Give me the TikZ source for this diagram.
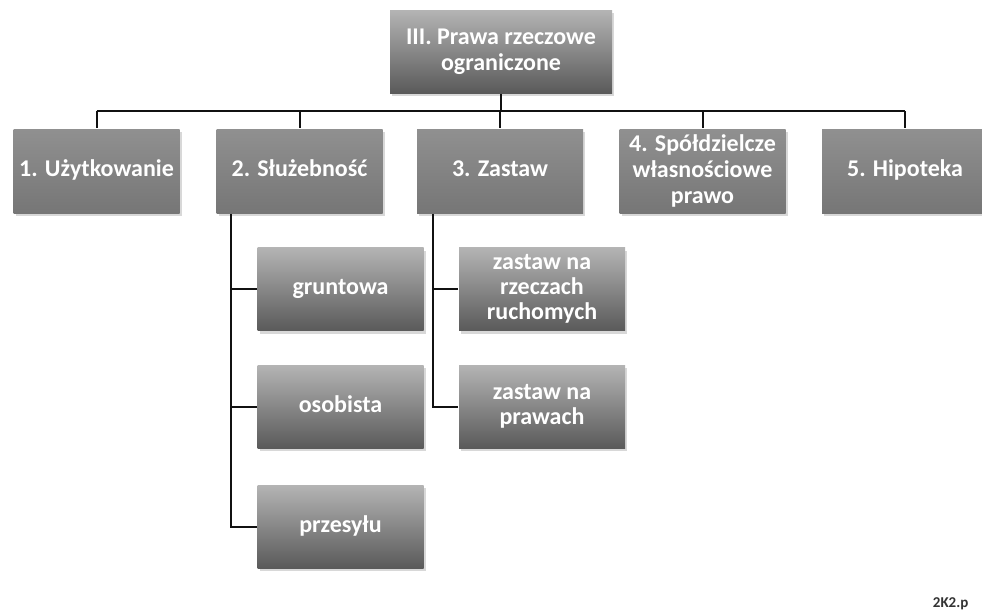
\documentclass[tikz,border=0pt]{standalone}
\usepackage{fontspec}
\setmainfont{Carlito}
\usetikzlibrary{positioning, calc, shadows}
\definecolor{cline}{HTML}{111111}
\definecolor{ctop}{HTML}{B4B4B4}
\definecolor{cbot}{HTML}{5A5A5A}
\definecolor{cmidtop}{HTML}{909090}
\definecolor{cmidbot}{HTML}{767676}
\definecolor{cstamp}{HTML}{333333}
\tikzset{
  every picture/.style={x=1pt, y=-1pt, line width=1.8pt},
  box/.style={top color=ctop, bottom color=cbot, text=white, align=center, inner sep=0pt,
    minimum width=166pt, minimum height=83pt, font=\fontsize{24}{26}\selectfont\bfseries,
    drop shadow={shadow xshift=2pt, shadow yshift=-3pt, opacity=0.3}},
  oneline/.style={text height=16pt, text depth=5pt},
  manyline/.style={},
  flatbox/.style={box, top color=cmidtop, bottom color=cmidbot},
  link/.style={draw=cline, line width=2pt},
  stamp/.style={font=\fontsize{15}{17}\selectfont\bfseries, text=cstamp, inner sep=0pt},
}
\begin{document}
\begin{tikzpicture}
  \clip (0,0) rectangle (982,614);
  \fill[white] (0,0) rectangle (982,614);
  \node[box, minimum width=222pt] (top) at (501,51.5) {III. Prawa rzeczowe\\ograniczone};
  % main categories
  \foreach \t/\x/\s [count=\i] in {{1. Użytkowanie}/96.5/oneline, {2. Służebność}/299.5/oneline,
      {3. Zastaw}/500/oneline, {4. Spółdzielcze\\własnościowe\\prawo}/702.5/manyline,
      {5. Hipoteka}/905/oneline}
    \node[flatbox, \s, minimum height=84pt] (r\i) at (\x,171) {\t};
  \coordinate (bus) at (501,111);
  \draw[link] (top.south) -- (top.south |- bus);
  \draw[link] (r1.north |- bus) -- (r5.north |- bus);
  \foreach \i in {1,...,5} \draw[link] (r\i.north |- bus) -- (r\i.north);
  % sub-types
  \foreach \t/\y [count=\i] in {gruntowa/289, osobista/406.5, przesyłu/526.5}
    \node[box, oneline] (s\i) at (340.5,\y) {\t};
  \foreach \t/\y [count=\i] in {{zastaw na\\rzeczach\\ruchomych}/289, {zastaw na\\prawach}/406.5}
    \node[box, font=\fontsize{24}{25}\selectfont\bfseries] (z\i) at (542,\y) {\t};
  \coordinate (s0) at ($(r2.south west)+(15,0)$);
  \coordinate (z0) at ($(r3.south west)+(17,0)$);
  \draw[link] (s0) |- (s3.west);
  \foreach \i in {1,2} \draw[link] (s0 |- s\i.west) -- (s\i.west);
  \draw[link] (z0) |- (z2.west);
  \draw[link] (z0 |- z1.west) -- (z1.west);
  \node[stamp, anchor=base west] (src) at (932,607) {2K2.p};
\end{tikzpicture}
\end{document}
